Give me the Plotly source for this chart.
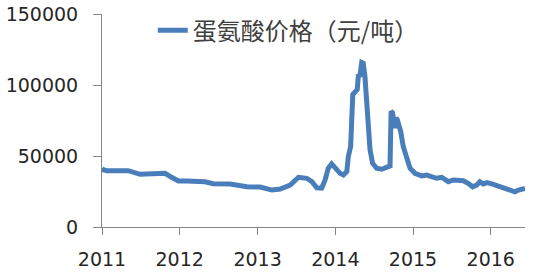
import plotly.graph_objects as go

series_name = "蛋氨酸价格（元/吨）"
dates = [
    "2011-01-01", "2011-01-09", "2011-01-24", "2011-03-28", "2011-05-04", "2011-06-29",
    "2011-08-15", "2011-09-16", "2011-10-24", "2011-11-24", "2011-12-26", "2012-02-03",
    "2012-04-29", "2012-06-06", "2012-08-25", "2012-11-11", "2013-01-13", "2013-03-09",
    "2013-04-17", "2013-06-03", "2013-07-12", "2013-08-20", "2013-09-13", "2013-10-06",
    "2013-10-29", "2013-11-14", "2013-11-29", "2013-12-15", "2013-12-31", "2014-01-23",
    "2014-02-08", "2014-02-24", "2014-03-03", "2014-03-14", "2014-03-24", "2014-04-04",
    "2014-04-14", "2014-04-19", "2014-04-27", "2014-05-05", "2014-05-12", "2014-05-20",
    "2014-05-28", "2014-06-05", "2014-06-13", "2014-06-25", "2014-07-14", "2014-08-07",
    "2014-08-30", "2014-09-15", "2014-09-20", "2014-09-27", "2014-10-08", "2014-10-13",
    "2014-10-19", "2014-10-28", "2014-11-04", "2014-11-16", "2014-12-02", "2014-12-18",
    "2015-01-10", "2015-02-11", "2015-03-06", "2015-04-22", "2015-05-16", "2015-06-16",
    "2015-07-09", "2015-08-25", "2015-09-17", "2015-10-08", "2015-10-27", "2015-11-11",
    "2015-11-27", "2015-12-15", "2016-01-13", "2016-02-13", "2016-04-01", "2016-04-24",
    "2016-05-10", "2016-05-26", "2016-06-10",
]
prices = [
    41400, 40200, 39700, 40200, 39700, 37100,
    37300, 37800, 37800, 35000, 32400, 32400,
    31900, 30500, 30300, 28300, 28100, 26000,
    26700, 29500, 35000, 34300, 31900, 27600,
    27400, 33100, 41400, 44400, 41400, 37800,
    36600, 39000, 49600, 56700, 93300, 95700,
    96900, 106300, 106800, 115800, 115300, 106300,
    89800, 70900, 54400, 44900, 41400, 40700,
    42500, 43000, 81500, 80400, 69700, 76800,
    75600, 70900, 67300, 56700, 47300, 41400,
    37800, 35900, 36600, 34300, 35000, 31900,
    33100, 32600, 30800, 28300, 29500, 31900,
    30300, 31200, 30000, 28300, 26500, 24800,
    26000, 26500, 27200,
]
y_ticks = [0, 50000, 100000, 150000]
y_tick_labels = ["0", "50000", "100000", "150000"]
x_range = ["2011-01-01", "2016-06-10"]

fig = go.Figure()
fig.add_trace(go.Scatter(
    x=dates, y=prices, mode="lines", name=series_name,
    line=dict(color="#4A7EBB", width=5),
))

axis_color = "#868686"
fig.update_layout(
    width=544, height=273,
    margin=dict(l=102, r=19, t=14, b=46, pad=0, autoexpand=False),
    paper_bgcolor="white", plot_bgcolor="white",
    showlegend=True,
    legend=dict(
        x=0.12, y=0.97, xanchor="left", yanchor="top", yref="container",
        font=dict(family="Noto Sans CJK SC", size=24, color="#404040"),
        bgcolor="rgba(0,0,0,0)", borderwidth=0,
    ),
    xaxis=dict(
        type="date", range=x_range, automargin=False,
        tickformat="%Y", dtick="M12", tick0="2011-01-01",
        showgrid=False, zeroline=False,
        showline=True, linecolor=axis_color, linewidth=1,
        ticks="outside", ticklen=7, tickcolor=axis_color,
        tickfont=dict(family="DejaVu Sans", size=19, color="#262626"),
        ticklabelstandoff=8,
    ),
    yaxis=dict(
        range=[0, 150000], tickvals=y_ticks, ticktext=y_tick_labels,
        automargin=False,
        showgrid=False, zeroline=False,
        showline=True, linecolor=axis_color, linewidth=1,
        ticks="outside", ticklen=8, tickcolor=axis_color,
        tickfont=dict(family="DejaVu Sans", size=19, color="#262626"),
        ticklabelstandoff=11,
    ),
)

fig.write_html("out.html")
